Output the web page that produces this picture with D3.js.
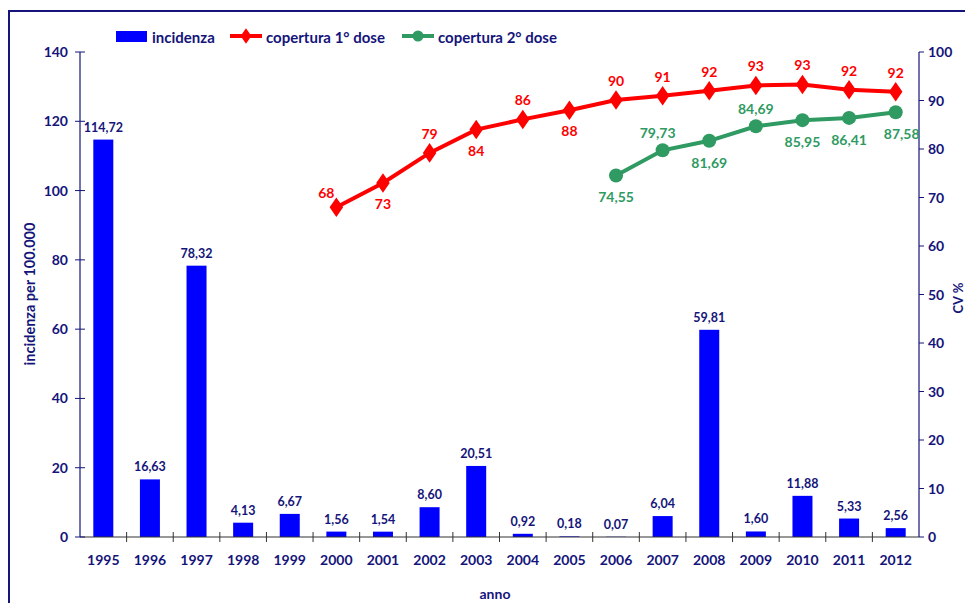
<!DOCTYPE html>
<html>
<head>
<meta charset="utf-8">
<script src="https://cdn.jsdelivr.net/npm/d3@7"></script>
<style>
  body { margin: 0; background: #fff; }
  svg text { font-family: Lato, "Open Sans", sans-serif; font-weight: bold; }
</style>
</head>
<body>
<div id="chart"></div>
<script>
var years = ["1995","1996","1997","1998","1999","2000","2001","2002","2003","2004","2005","2006","2007","2008","2009","2010","2011","2012"];
var incidenza = [114.72,16.63,78.32,4.13,6.67,1.56,1.54,8.60,20.51,0.92,0.18,0.07,6.04,59.81,1.60,11.88,5.33,2.56];
var dose1Years = ["2000","2001","2002","2003","2004","2005","2006","2007","2008","2009","2010","2011","2012"];
var dose1 = [68.0,73.0,79.2,84.0,86.1,88.0,90.1,91.0,92.0,93.1,93.3,92.2,91.8];
var dose1Labels = ["68","73","79","84","86","88","90","91","92","93","93","92","92"];
var dose1Below = [false,true,false,true,false,true,false,false,false,false,false,false,false];
var dose2Years = ["2006","2007","2008","2009","2010","2011","2012"];
var dose2 = [74.55,79.73,81.69,84.69,85.95,86.41,87.58];
var dose2Below = [true,false,true,false,true,true,true];
var leftTicks = [0,20,40,60,80,100,120,140];
var rightTicks = [0,10,20,30,40,50,60,70,80,90,100];

var W = 965, H = 603;
var navy = "#14147a", red = "#ff0000", green = "#2f9a62", blue = "#0000ff";
function fmt(v) { return v.toFixed(2).replace(".", ","); }

var svg = d3.select("#chart").append("svg").attr("width", W).attr("height", H);

// frame
svg.append("rect").attr("x", 9).attr("y", 11).attr("width", W + 20).attr("height", H + 20)
    .attr("fill", "none").attr("stroke", navy).attr("stroke-width", 2);

var x0 = 80, x1 = 919, yTop = 52, yBot = 537;
var x = d3.scaleBand().domain(years).range([x0, x1]).paddingInner(0).paddingOuter(0);
var yL = d3.scaleLinear().domain([0, 140]).range([yBot, yTop]);
var yR = d3.scaleLinear().domain([0, 100]).range([yBot, yTop]);
var cx = function(d) { return x(d) + x.bandwidth() / 2; };

// bars
svg.append("g").selectAll("rect").data(incidenza).enter().append("rect")
    .attr("x", function(d, i) { return cx(years[i]) - 10; })
    .attr("width", 20)
    .attr("y", function(d) { return yL(d); })
    .attr("height", function(d) { return yBot - yL(d); })
    .attr("fill", blue);

svg.append("g").selectAll("text").data(incidenza).enter().append("text")
    .attr("x", function(d, i) { return cx(years[i]); })
    .attr("y", function(d) { return yL(d) - 8; })
    .attr("text-anchor", "middle").attr("font-size", 12.5).attr("fill", navy)
    .text(fmt);

// x axis
var gx = svg.append("g").attr("transform", "translate(0," + yBot + ")");
gx.append("line").attr("x1", x0).attr("x2", x1).attr("stroke", "#333").attr("stroke-width", 1.2);
gx.selectAll(".tk").data(years.slice(1)).enter().append("line")
    .attr("x1", function(d) { return x(d); }).attr("x2", function(d) { return x(d); })
    .attr("y1", -5).attr("y2", 5).attr("stroke", "#333");
gx.selectAll("text").data(years).enter().append("text")
    .attr("x", function(d) { return cx(d); }).attr("y", 28)
    .attr("text-anchor", "middle").attr("font-size", 14).attr("fill", navy)
    .text(function(d) { return d; });

// left axis
var gl = svg.append("g").attr("transform", "translate(" + x0 + ",0)");
gl.append("line").attr("y1", yTop).attr("y2", yBot).attr("stroke", navy).attr("stroke-width", 1.2);
gl.selectAll("line.t").data(leftTicks).enter().append("line")
    .attr("x1", -5).attr("x2", 5).attr("y1", function(d) { return yL(d); }).attr("y2", function(d) { return yL(d); })
    .attr("stroke", navy);
gl.selectAll("text").data(leftTicks).enter().append("text")
    .attr("x", -12).attr("y", function(d) { return yL(d) + 5; })
    .attr("text-anchor", "end").attr("font-size", 14).attr("fill", navy)
    .text(function(d) { return d; });

// right axis
var gr = svg.append("g").attr("transform", "translate(" + x1 + ",0)");
gr.append("line").attr("y1", yTop).attr("y2", yBot).attr("stroke", navy).attr("stroke-width", 1.2);
gr.selectAll("line.t").data(rightTicks).enter().append("line")
    .attr("x1", 0).attr("x2", 5).attr("y1", function(d) { return yR(d); }).attr("y2", function(d) { return yR(d); })
    .attr("stroke", navy);
gr.selectAll("text").data(rightTicks).enter().append("text")
    .attr("x", 9).attr("y", function(d) { return yR(d) + 5; })
    .attr("text-anchor", "start").attr("font-size", 14).attr("fill", navy)
    .text(function(d) { return d; });

// axis titles
svg.append("text").attr("transform", "translate(35,294) rotate(-90)")
    .attr("text-anchor", "middle").attr("font-size", 14.5).attr("fill", navy).text("incidenza per 100.000");
svg.append("text").attr("transform", "translate(963,298) rotate(-90)")
    .attr("text-anchor", "middle").attr("font-size", 13).attr("fill", navy).text("CV %");
svg.append("text").attr("x", 495).attr("y", 599)
    .attr("text-anchor", "middle").attr("font-size", 14).attr("fill", navy).text("anno");

// line copertura 1 dose
var line = d3.line().x(function(d) { return cx(d.k); }).y(function(d) { return yR(d.v); });
var d1 = dose1.map(function(v, i) { return { k: dose1Years[i], v: v }; });
var d2 = dose2.map(function(v, i) { return { k: dose2Years[i], v: v }; });

svg.append("path").datum(d1).attr("d", line).attr("fill", "none").attr("stroke", red).attr("stroke-width", 4);
svg.append("g").selectAll("path").data(d1).enter().append("path")
    .attr("d", d3.symbol().type(d3.symbolDiamond).size(110))
    .attr("transform", function(d) { return "translate(" + cx(d.k) + "," + yR(d.v) + ") scale(1.2,1)"; })
    .attr("fill", red);
svg.append("g").selectAll("text").data(d1).enter().append("text")
    .attr("x", function(d, i) { return cx(d.k) + (i == 0 ? -10 : 0); })
    .attr("y", function(d, i) { return yR(d.v) + (dose1Below[i] ? 26 : (i == 0 ? -9 : -14)); })
    .attr("text-anchor", "middle").attr("font-size", 14).attr("fill", red)
    .text(function(d, i) { return dose1Labels[i]; });

// line copertura 2 dose
svg.append("path").datum(d2).attr("d", line).attr("fill", "none").attr("stroke", green).attr("stroke-width", 4);
svg.append("g").selectAll("circle").data(d2).enter().append("circle")
    .attr("cx", function(d) { return cx(d.k); }).attr("cy", function(d) { return yR(d.v); })
    .attr("r", 7).attr("fill", green);
svg.append("g").selectAll("text").data(d2).enter().append("text")
    .attr("x", function(d, i) { return cx(d.k) + (i == 6 ? 6 : (i == 1 ? -5 : 0)); })
    .attr("y", function(d, i) { return yR(d.v) + (dose2Below[i] ? 27 : -12); })
    .attr("text-anchor", "middle").attr("font-size", 14).attr("fill", green)
    .text(function(d) { return fmt(d.v); });

// legend
var lg = svg.append("g");
lg.append("rect").attr("x", 116).attr("y", 31).attr("width", 31).attr("height", 11).attr("fill", blue);
lg.append("text").attr("x", 152).attr("y", 43).attr("font-size", 15).attr("fill", navy).text("incidenza");
lg.append("line").attr("x1", 230).attr("x2", 262).attr("y1", 36).attr("y2", 36).attr("stroke", red).attr("stroke-width", 4);
lg.append("path").attr("d", d3.symbol().type(d3.symbolDiamond).size(70)).attr("transform", "translate(246,36) scale(1.2,1)").attr("fill", red);
lg.append("text").attr("x", 266).attr("y", 43).attr("font-size", 15).attr("fill", navy).text("copertura 1° dose");
lg.append("line").attr("x1", 402).attr("x2", 434).attr("y1", 36).attr("y2", 36).attr("stroke", green).attr("stroke-width", 4);
lg.append("circle").attr("cx", 418).attr("cy", 36).attr("r", 5.5).attr("fill", green);
lg.append("text").attr("x", 438).attr("y", 43).attr("font-size", 15).attr("fill", navy).text("copertura 2° dose");
</script>
</body>
</html>
